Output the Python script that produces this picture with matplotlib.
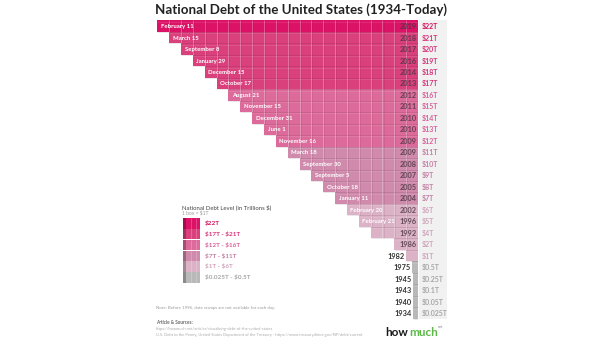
import numpy as np
import matplotlib.pyplot as plt

plt.rcParams['font.family'] = ['Lato', 'DejaVu Sans']
plt.rcParams['text.parse_math'] = False

# 数据
years = ['2019', '2018', '2017', '2016', '2014', '2013', '2012', '2011', '2010', '2010',
         '2009', '2009', '2008', '2007', '2005', '2004', '2002', '1996', '1992', '1986',
         '1982', '1975', '1945', '1943', '1940', '1934']
dates = ['February 11', 'March 15', 'September 8', 'January 29', 'December 15', 'October 17',
         'August 21', 'November 15', 'December 31', 'June 1', 'November 16', 'March 18',
         'September 30', 'September 5', 'October 18', 'January 11', 'February 20', 'February 21',
         '', '', '', '', '', '', '', '']
debt = [22, 21, 20, 19, 18, 17, 16, 15, 14, 13, 12, 11, 10, 9, 8, 7, 6, 5, 4, 2, 1,
        0.5, 0.25, 0.1, 0.05, 0.025]
value_labels = ['$22T', '$21T', '$20T', '$19T', '$18T', '$17T', '$16T', '$15T', '$14T', '$13T',
                '$12T', '$11T', '$10T', '$9T', '$8T', '$7T', '$6T', '$5T', '$4T', '$2T', '$1T',
                '$0.5T', '$0.25T', '$0.1T', '$0.05T', '$0.025T']
level_labels = ['$22T', '$17T - $21T', '$12T - $16T', '$7T - $11T', '$1T - $6T', '$0.025T - $0.5T']
level_colors = ['#dc1267', '#d9407c', '#dc6b9b', '#cf8aac', '#dbb2c6', '#b9b9b9']
level_text = ['#d3145f', '#d7347a', '#d9609a', '#c57fa3', '#d0a3bb', '#a6a6a6']


def level(d):
    if d >= 22:
        return 0
    if d >= 17:
        return 1
    if d >= 12:
        return 2
    if d >= 7:
        return 3
    if d >= 1:
        return 4
    return 5


W, H = 605, 341
fig = plt.figure(figsize=(W / 100, H / 100), dpi=100)

# 主图: x 单位为万亿美元, 0 在右侧
px_per_t = 11.85
x0_px = 418
row0_px, row_step = 26, 11.48
ax_l, ax_r, ax_t, ax_b = 150, 450, 15, 325
ax = fig.add_axes([ax_l / W, 1 - ax_b / H, (ax_r - ax_l) / W, (ax_b - ax_t) / H])
ax.set_xlim((ax_l - x0_px) / px_per_t, (ax_r - x0_px) / px_per_t)
ax.set_ylim((ax_b - row0_px) / row_step, (ax_t - row0_px) / row_step)
ax.axis('off')

n = len(debt)
rows = np.arange(n)
cats = [level(d) for d in debt]
draw_w = np.array([max(d, 0.4) for d in debt])

# 右侧数值栏背景
ax.fill_betweenx([-0.5, n - 0.5], 0.05, 2.45, color='#f1f1f1', lw=0)

ax.barh(rows, draw_w, left=-draw_w, height=1.0,
        color=[level_colors[c] for c in cats], lw=0)

for i, d in enumerate(debt):
    # 每格 $1T 的分隔线
    if d >= 2:
        xs = -np.arange(1, int(d))
        ax.vlines(xs, i - 0.5, i + 0.5, color='white', alpha=0.28, lw=0.7)
        ax.vlines(xs + 0.09, i - 0.5, i + 0.5, color='#5a0a2a', alpha=0.12, lw=0.5)
    ax.hlines(i + 0.5, -draw_w[i], 0, color='#3a0018', alpha=0.12, lw=0.6)
    ax.hlines(i - 0.38, -draw_w[i], 0, color='white', alpha=0.10, lw=0.8)

    if dates[i]:
        ax.text(-d + 0.3, i + 0.05, dates[i], color='white', fontsize=4.3,
                fontweight='bold', va='center', ha='left')
    if d >= 2:
        ax.text(-0.12, i + 0.05, years[i], color='#4a3340', alpha=0.8, fontsize=5.3,
                fontweight='bold', va='center', ha='right')
    else:
        ax.text(-draw_w[i] - 0.15, i + 0.05, years[i], color='#333333', fontsize=5.3,
                fontweight='bold', va='center', ha='right')
    ax.text(0.3, i + 0.05, value_labels[i], color=level_text[cats[i]], fontsize=5,
            fontweight='bold', va='center', ha='left')

# 标题
fig.text(301 / W, 1 - 10 / H, 'National Debt of the United States (1934-Today)',
         ha='center', va='center', fontsize=9.6, fontweight='bold', color='#222222')

# 图例
fig.text(182 / W, 1 - 207 / H, 'National Debt Level (in Trillions $)', fontsize=4.3,
         color='#444444', va='center')
fig.text(182 / W, 1 - 212.5 / H, '1 box = $1T', fontsize=3.6, color='#9a9a9a', va='center')

lg_t, lg_b = 218, 283
ax_leg = fig.add_axes([183 / W, 1 - lg_b / H, 17 / W, (lg_b - lg_t) / H])
ax_leg.set_xlim(0, 1)
ax_leg.set_ylim(len(level_colors), 0)
ax_leg.axis('off')
for i, c in enumerate(level_colors):
    ax_leg.bar(0.6, 0.98, width=0.8, bottom=i, color=c, lw=0)
    ax_leg.bar(0.1, 0.98, width=0.2, bottom=i, color=c, lw=0)
    ax_leg.bar(0.1, 0.98, width=0.2, bottom=i, color='black', alpha=0.25, lw=0)
    ax_leg.vlines([0.45, 0.75], i, i + 0.98, color='white', alpha=0.3, lw=0.5)

for i, lab in enumerate(level_labels):
    y = lg_t + (lg_b - lg_t) / len(level_labels) * (i + 0.5)
    fig.text(205 / W, 1 - y / H, lab, fontsize=4.6, fontweight='bold',
             color=level_text[i], va='center')

# 注释与来源
fig.text(156 / W, 1 - 308 / H,
         'Note: Before 1996, date stamps are not available for each day.',
         fontsize=3.2, color='#9a9a9a', va='center')
fig.text(156 / W, 1 - 323 / H, 'Article & Sources:', fontsize=3.3,
         fontweight='bold', color='#666666', va='center')
fig.text(156 / W, 1 - 329 / H,
         'https://howmuch.net/articles/visualizing-debt-of-the-united-states',
         fontsize=2.9, color='#aaaaaa', va='center')
fig.text(156 / W, 1 - 335 / H,
         'U.S. Debt to the Penny, United States Department of the Treasury - '
         'https://www.treasurydirect.gov/NP/debt/current',
         fontsize=2.9, color='#aaaaaa', va='center')

# howmuch 标志
fig.text(385 / W, 1 - 332 / H, 'how', fontsize=8.5, fontweight='bold',
         color='#1a1a1a', va='center')
fig.text(409 / W, 1 - 332 / H, 'much', fontsize=8.5, fontweight='bold',
         color='#5cb848', va='center')
fig.text(438 / W, 1 - 327 / H, 'net', fontsize=2.8, color='#888888', va='center')

fig.savefig('out.png', dpi=100, facecolor='white')
